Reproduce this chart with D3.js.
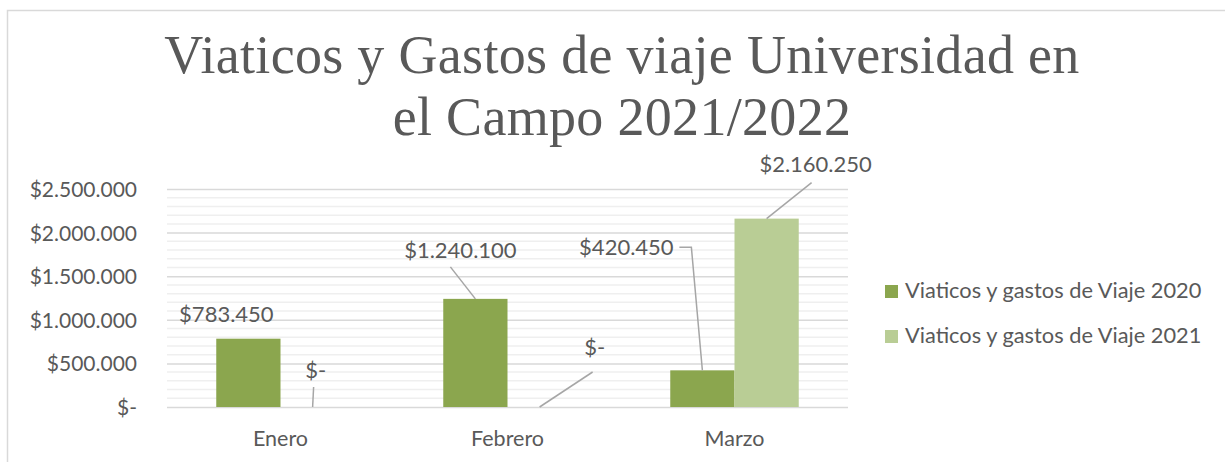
<!DOCTYPE html>
<html>
<head>
<meta charset="utf-8">
<script src="https://cdn.jsdelivr.net/npm/d3@7"></script>
<style>
  body { margin: 0; background: #fff; }
  text { fill: #595959; font-family: Lato, "Open Sans", sans-serif; }
</style>
</head>
<body>
<div id="chart"></div>
<script>
// data
const months = ["Enero", "Febrero", "Marzo"];
const seriesNames = ["Viaticos y gastos de Viaje 2020", "Viaticos y gastos de Viaje 2021"];
const values2020 = [783450, 1240100, 420450];
const values2021 = [0, 0, 2160250];
const yTicks = [0, 500000, 1000000, 1500000, 2000000, 2500000];
const titleLines = ["Viaticos y Gastos de viaje Universidad en", "el Campo 2021/2022"];

const colors = ["#8BA64E", "#B9CD95"];

// hand placed data labels (like dragged labels in Excel): offset from bar top, leader start
const labelPos = [
  [[-22, -17, null], [-15, -41, [-10, 9]], [-76, -115, "elbow"]],
  [[3, -29, [-2, 9]], [55, -52, [-2, 17]], [49, -47, [-4, 11]]]
];

const width = 1225, height = 462;
const plot = { left: 167, right: 848, top: 189, bottom: 407 };

const svg = d3.select("#chart").append("svg")
  .attr("width", width)
  .attr("height", height);

// chart frame
svg.append("path")
  .attr("d", `M7.5,${height} V10.5 H${width}`)
  .attr("fill", "none")
  .attr("stroke", "#d9d9d9")
  .attr("stroke-width", 1.5);

// title
const title = svg.append("g");
title.selectAll("text")
  .data(titleLines)
  .enter()
  .append("text")
  .attr("x", 622)
  .attr("y", (d, i) => 73 + i * 62)
  .attr("text-anchor", "middle")
  .style("font-family", '"Liberation Serif", serif')
  .style("font-size", "54px")
  .text(d => d);
// widen with letter spacing so the first line is as wide as in the picture
const t0 = title.select("text");
const ls = (915 - t0.node().getComputedTextLength()) / (titleLines[0].length - 1);
title.selectAll("text").style("letter-spacing", ls + "px");

const y = d3.scaleLinear()
  .domain([0, 2500000])
  .range([plot.bottom, plot.top]);

const x0 = d3.scaleBand()
  .domain(months)
  .range([plot.left, plot.right]);

const bw = x0.bandwidth();
const barW = bw * 0.283;
const x1 = d3.scaleBand()
  .domain([0, 1])
  .range([bw / 2 - barW, bw / 2 + barW]);

const fmt = v => v === 0 ? "$-" : "$" + d3.format(",")(v).replace(/,/g, ".");

// minor grid
const minor = d3.range(0, 2500001, 100000).filter(v => v % 500000 !== 0);
svg.append("g")
  .selectAll("line")
  .data(minor)
  .enter()
  .append("line")
  .attr("x1", plot.left).attr("x2", plot.right)
  .attr("y1", d => y(d)).attr("y2", d => y(d))
  .attr("stroke", "#efefef")
  .attr("stroke-width", 1.5);

// y axis with major grid
const yAxis = svg.append("g")
  .attr("transform", `translate(${plot.left},0)`)
  .call(d3.axisLeft(y)
    .tickValues(yTicks)
    .tickSize(-(plot.right - plot.left))
    .tickPadding(30)
    .tickFormat(fmt));
yAxis.select(".domain").remove();
yAxis.selectAll(".tick line").attr("stroke", "#d9d9d9").attr("stroke-width", 1.5);
yAxis.selectAll(".tick text")
  .style("font-size", "21px")
  .attr("fill", "#595959")
  .attr("dy", "0.36em");

// x axis labels
const xAxis = svg.append("g")
  .attr("transform", `translate(0,${plot.bottom})`)
  .call(d3.axisBottom(x0).tickSize(0).tickPadding(24));
xAxis.select(".domain").remove();
xAxis.selectAll(".tick text")
  .style("font-size", "21.5px")
  .attr("fill", "#595959");

// bars
const seriesValues = [values2020, values2021];
const groups = svg.append("g")
  .selectAll("g")
  .data(seriesValues)
  .enter()
  .append("g")
  .attr("fill", (d, i) => colors[i]);

groups.each(function(vals, s) {
  d3.select(this).selectAll("rect")
    .data(vals)
    .enter()
    .append("rect")
    .attr("x", (d, i) => x0(months[i]) + x1(s))
    .attr("width", x1.bandwidth())
    .attr("y", d => y(d))
    .attr("height", d => plot.bottom - y(d));
});

// data labels with leader lines
const labels = svg.append("g");
seriesValues.forEach((vals, s) => {
  vals.forEach((v, i) => {
    const cx = x0(months[i]) + x1(s) + x1.bandwidth() / 2;
    const top = y(v);
    const [dx, dy, lead] = labelPos[s][i];
    const lx = cx + dx, ly = top + dy;
    labels.append("text")
      .attr("x", lx)
      .attr("y", ly)
      .attr("text-anchor", "middle")
      .style("font-size", "22px")
      .text(fmt(v));
    let pts = null;
    if (lead === "elbow") {
      pts = [[lx + 53, ly - 8], [lx + 65, ly - 8], [cx, top]];
    } else if (lead) {
      pts = [[lx + lead[0], ly + lead[1]], [cx, top]];
    }
    if (pts) {
      labels.append("path")
        .attr("d", d3.line()(pts))
        .attr("fill", "none")
        .attr("stroke", "#a6a6a6")
        .attr("stroke-width", 1.5);
    }
  });
});

// legend
const legend = svg.append("g")
  .selectAll("g")
  .data(seriesNames)
  .enter()
  .append("g")
  .attr("transform", (d, i) => `translate(885,${285 + i * 45})`);
legend.append("rect")
  .attr("width", 13).attr("height", 13)
  .attr("fill", (d, i) => colors[i]);
legend.append("text")
  .attr("x", 20)
  .attr("y", 13)
  .style("font-size", "21.8px")
  .text(d => d);
</script>
</body>
</html>
